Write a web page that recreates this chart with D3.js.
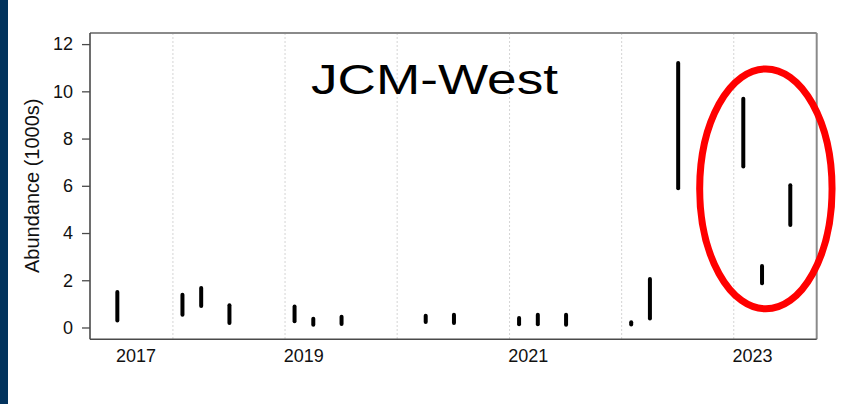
<!DOCTYPE html>
<html>
<head>
<meta charset="utf-8">
<script src="https://cdn.jsdelivr.net/npm/d3@7"></script>
<style>
  html, body { margin: 0; padding: 0; background: #fff; }
  svg { display: block; font-family: "Liberation Sans", Arial, sans-serif; }
</style>
</head>
<body>
<svg id="chart" width="847" height="404"></svg>
<script>
// Survey dates and abundance interval (thousands) for each survey
const surveyDates = [
  "2017-07-04", "2018-02-01", "2018-04-03", "2018-07-04",
  "2019-02-01", "2019-04-03", "2019-07-04",
  "2020-04-03", "2020-07-04",
  "2021-02-01", "2021-04-03", "2021-07-04",
  "2022-02-01", "2022-04-03", "2022-07-04",
  "2023-02-01", "2023-04-03", "2023-07-04"
];
const lowerValues = [0.30, 0.54, 0.91, 0.19, 0.26, 0.12, 0.15, 0.23, 0.19, 0.14, 0.14, 0.12, 0.13, 0.38, 5.90, 6.82, 1.87, 4.34];
const upperValues = [1.50, 1.39, 1.67, 0.94, 0.89, 0.37, 0.45, 0.50, 0.54, 0.40, 0.54, 0.54, 0.22, 2.05, 11.20, 9.69, 2.60, 6.02];

// Axis ticks
const yTicks = [0, 2, 4, 6, 8, 10, 12];
const xLabelDates = ["2017-09-01", "2019-03-01", "2021-03-01", "2023-03-01"];
const xLabels = ["2017", "2019", "2021", "2023"];
const gridYears = [2018, 2019, 2020, 2021, 2022, 2023];

// Highlighted 2023 surveys: date span and value span of the ring
const highlightDates = ["2022-09-12", "2023-11-17"];
const highlightValues = [0.79, 10.95];

const parse = d3.timeParse("%Y-%m-%d");
const svg = d3.select("#chart");

// Dark side band
svg.append("rect").attr("x", 0).attr("y", 0).attr("width", 8).attr("height", 404).attr("fill", "#02335d");

const plotLeft = 90, plotRight = 816.7, plotTop = 33, plotBottom = 339.3;

const x = d3.scaleTime()
  .domain([parse("2017-04-06"), parse("2023-09-28")])
  .range([plotLeft, plotRight]);
const y = d3.scaleLinear()
  .domain([-0.5, 12.47])
  .range([plotBottom, plotTop]);

// Year gridlines
svg.append("g").selectAll("line")
  .data(gridYears)
  .join("line")
  .attr("x1", d => x(new Date(d, 0, 1)))
  .attr("x2", d => x(new Date(d, 0, 1)))
  .attr("y1", plotTop).attr("y2", plotBottom)
  .attr("stroke", "#d4d4d4")
  .attr("stroke-width", 1)
  .attr("stroke-dasharray", "2,2");

// Plot frame: light top/right, darker left/bottom
svg.append("line").attr("x1", plotLeft).attr("x2", plotRight).attr("y1", plotTop).attr("y2", plotTop)
  .attr("stroke", "#8a8a8a").attr("stroke-width", 2);
svg.append("line").attr("x1", plotRight).attr("x2", plotRight).attr("y1", plotTop).attr("y2", plotBottom)
  .attr("stroke", "#8a8a8a").attr("stroke-width", 2);

// Y axis
const yAxis = svg.append("g")
  .attr("transform", `translate(${plotLeft},0)`)
  .call(d3.axisLeft(y).tickValues(yTicks).tickSize(8).tickPadding(9).tickFormat(d3.format("d")));
yAxis.select(".domain").attr("stroke", "#4a4a4a").attr("stroke-width", 1.6)
  .attr("d", `M0,${plotTop}V${plotBottom}`);
yAxis.selectAll(".tick line").attr("stroke", "#4a4a4a").attr("stroke-width", 1.3);
yAxis.selectAll(".tick text").attr("fill", "#111").style("font-size", "18px")
  .style("font-family", "'Liberation Sans', Arial, sans-serif");

// X axis (labels only, no ticks)
const xAxis = svg.append("g")
  .attr("transform", `translate(0,${plotBottom})`)
  .call(d3.axisBottom(x)
    .tickValues(xLabelDates.map(parse))
    .tickSize(0).tickPadding(10)
    .tickFormat((d, i) => xLabels[i]));
xAxis.select(".domain").attr("stroke", "#4a4a4a").attr("stroke-width", 1.6)
  .attr("d", `M${plotLeft},0H${plotRight}`);
xAxis.selectAll(".tick text").attr("fill", "#111").style("font-size", "18px")
  .style("font-family", "'Liberation Sans', Arial, sans-serif");

// Y axis title
svg.append("text")
  .attr("transform", `translate(39,${(y(12) + y(0)) / 2}) rotate(-90)`)
  .attr("text-anchor", "middle")
  .attr("fill", "#111")
  .style("font-size", "20px")
  .text("Abundance (1000s)");

// Survey intervals
svg.append("g").selectAll("line")
  .data(surveyDates.map((d, i) => ({ date: parse(d), lo: lowerValues[i], hi: upperValues[i] })))
  .join("line")
  .attr("x1", d => x(d.date)).attr("x2", d => x(d.date))
  .attr("y1", d => y(d.lo)).attr("y2", d => y(d.hi))
  .attr("stroke", "#000")
  .attr("stroke-width", 4)
  .attr("stroke-linecap", "round");

// Site name
svg.append("text")
  .attr("x", 311).attr("y", 93.5)
  .attr("textLength", 247)
  .attr("lengthAdjust", "spacingAndGlyphs")
  .attr("fill", "#000")
  .style("font-size", "43px")
  .text("JCM-West");

// Ring around the 2023 surveys
const hx0 = x(parse(highlightDates[0])), hx1 = x(parse(highlightDates[1]));
const hy0 = y(highlightValues[1]), hy1 = y(highlightValues[0]);
svg.append("ellipse")
  .attr("cx", (hx0 + hx1) / 2).attr("cy", (hy0 + hy1) / 2)
  .attr("rx", (hx1 - hx0) / 2).attr("ry", (hy1 - hy0) / 2)
  .attr("fill", "none")
  .attr("stroke", "#ff0000")
  .attr("stroke-width", 7);
</script>
</body>
</html>
